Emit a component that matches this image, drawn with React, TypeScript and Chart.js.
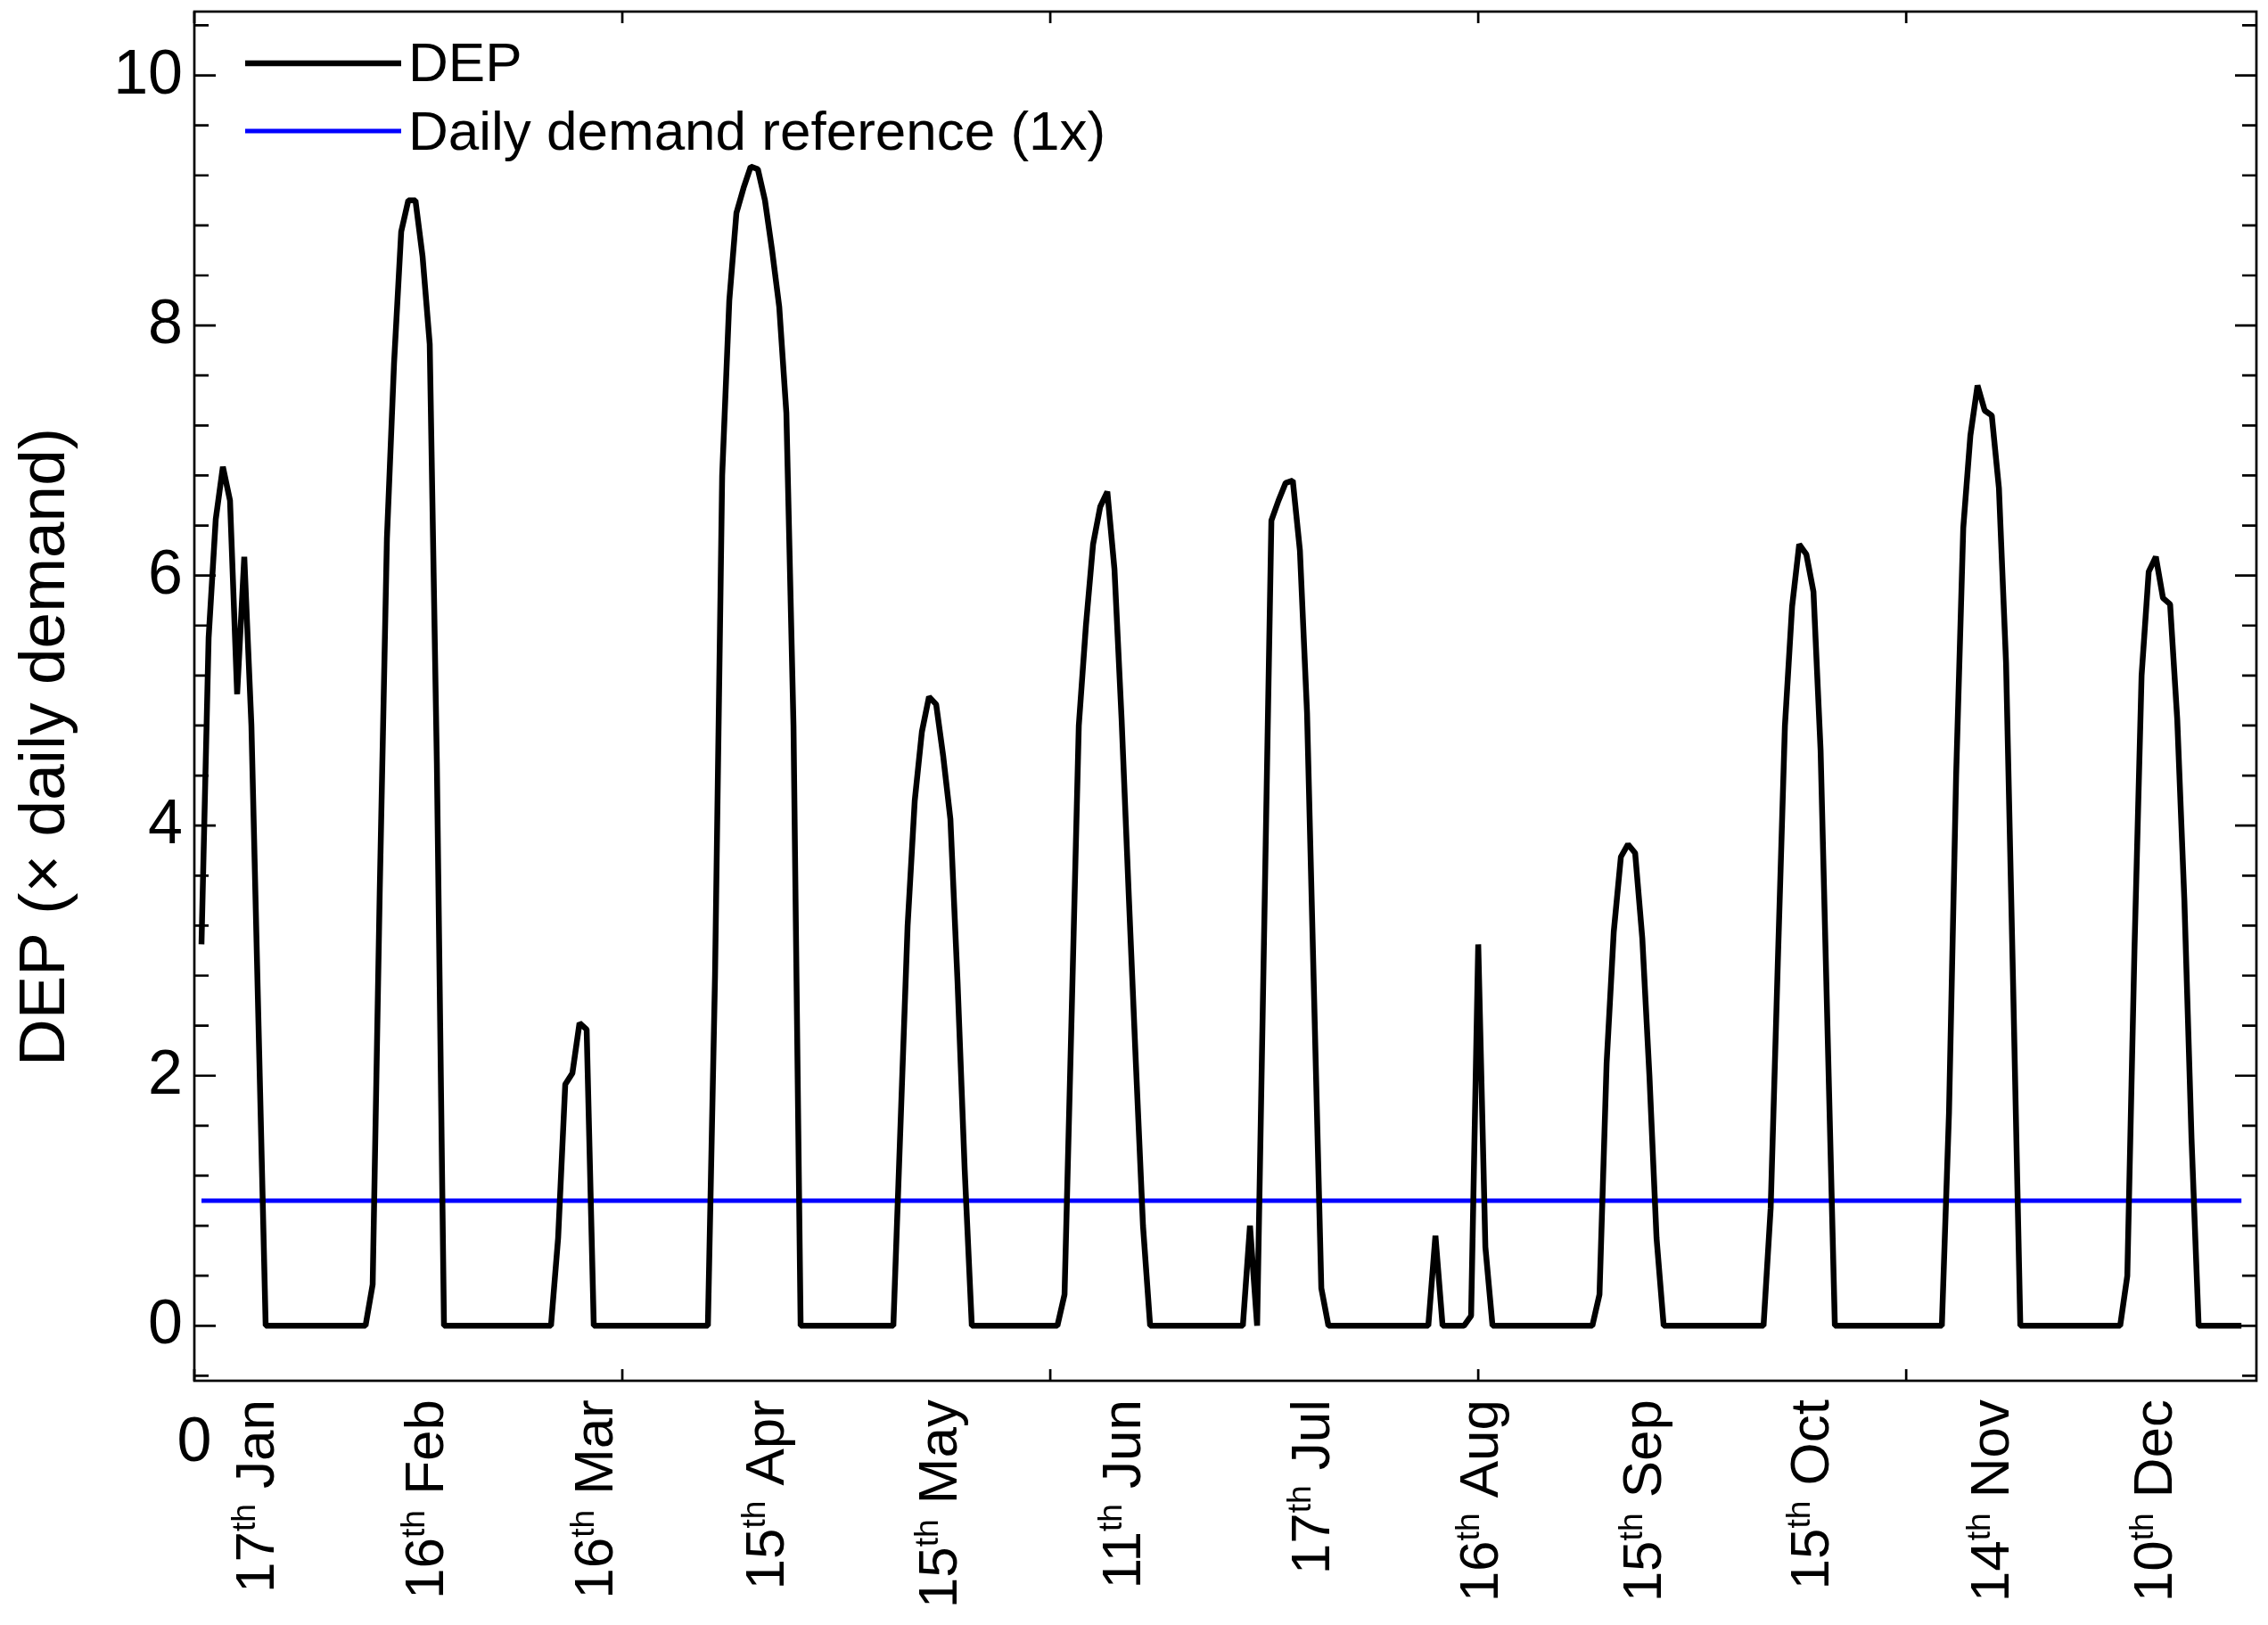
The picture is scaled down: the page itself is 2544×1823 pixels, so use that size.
import { useEffect, useRef } from "react";
import { Chart, registerables } from "chart.js";

Chart.register(...registerables);

// DEP in multiples of the daily demand, one value per hour (hour 1 .. 287),
// one row per representative day
const depValues: number[] = [
  3.05, 5.5, 6.45, 6.87, 6.6, 5.05, 6.15, 4.8, 2.4, 0, 0, 0, 0, 0, 0, 0, 0, 0, 0, 0, 0, 0, 0, 0,
  0.33, 3.5, 6.3, 7.7, 8.75, 9.0, 9.0, 8.55, 7.85, 4.5, 0, 0, 0, 0, 0, 0, 0, 0, 0, 0, 0, 0, 0, 0,
  0, 0, 0.7, 1.93, 2.02, 2.42, 2.37, 0, 0, 0, 0, 0, 0, 0, 0, 0, 0, 0, 0, 0, 0, 0, 0, 0,
  2.8, 6.8, 8.2, 8.9, 9.1, 9.27, 9.25, 9.0, 8.6, 8.15, 7.3, 4.8, 0, 0, 0, 0, 0, 0, 0, 0, 0, 0, 0, 0,
  0, 0, 1.6, 3.2, 4.2, 4.75, 5.03, 4.97, 4.55, 4.05, 2.75, 1.25, 0, 0, 0, 0, 0, 0, 0, 0, 0, 0, 0, 0,
  0, 0.25, 2.5, 4.8, 5.6, 6.25, 6.55, 6.67, 6.05, 4.85, 3.45, 2.1, 0.8, 0, 0, 0, 0, 0, 0, 0, 0, 0, 0, 0,
  0, 0, 0, 0.8, 0, 3.2, 6.44, 6.6, 6.74, 6.76, 6.2, 4.9, 2.6, 0.3, 0, 0, 0, 0, 0, 0, 0, 0, 0, 0,
  0, 0, 0, 0, 0, 0.72, 0, 0, 0, 0, 0.08, 3.05, 0.63, 0, 0, 0, 0, 0, 0, 0, 0, 0, 0, 0,
  0, 0, 0, 0, 0.25, 2.1, 3.15, 3.75, 3.85, 3.78, 3.1, 2.0, 0.7, 0, 0, 0, 0, 0, 0, 0, 0, 0, 0, 0,
  0, 0, 0, 0, 0.94, 2.9, 4.8, 5.75, 6.25, 6.17, 5.87, 4.6, 2.3, 0, 0, 0, 0, 0, 0, 0, 0, 0, 0, 0,
  0, 0, 0, 0, 0, 1.7, 4.4, 6.38, 7.12, 7.52, 7.32, 7.28, 6.7, 5.3, 2.7, 0, 0, 0, 0, 0, 0, 0, 0, 0,
  0, 0, 0, 0, 0, 0, 0.4, 3.0, 5.2, 6.03, 6.15, 5.82, 5.77, 4.85, 3.4, 1.5, 0, 0, 0, 0, 0, 0, 0,
];
const firstHour = 1;
const demandLevel = 1;

// axes
const xMax = 289.1;
const yMin = -0.44;
const yMax = 10.51;
const xTicks = [0, 60, 120, 180, 240];
const yTicks = [0, 2, 4, 6, 8, 10];
const yMinorStep = 0.4;

// date labels under the axis (x position = hour value)
const dayLabelPos = [8.4, 32.1, 55.9, 79.9, 104.1, 129.9, 156.3, 180.0, 202.9, 226.3, 251.6, 274.5];
const dayLabelNum = ["17", "16", "16", "15", "15", "11", "17", "16", "15", "15", "14", "10"];
const dayLabelMonth = ["Jan", "Feb", "Mar", "Apr", "May", "Jun", "Jul", "Aug", "Sep", "Oct", "Nov", "Dec"];
const daySuffix = "th";

const yTitle = "DEP (\u00d7 daily demand)";
const FONT = "'Liberation Sans', Arial, sans-serif";

const framePlugin = {
  id: "originFrame",
  afterDatasetsDraw(chart: any) {
    const { ctx, chartArea: a, scales } = chart;
    const x = scales.x;
    const y = scales.y;
    ctx.save();
    ctx.strokeStyle = "#000";
    ctx.lineWidth = 2.7;
    ctx.lineCap = "butt";
    ctx.beginPath();
    // y ticks on both sides, pointing in
    for (let i = Math.ceil(yMin / yMinorStep); i * yMinorStep <= yMax; i++) {
      const v = i * yMinorStep;
      const py = y.getPixelForValue(v);
      const major = yTicks.some((t) => Math.abs(t - v) < 1e-6);
      const len = major ? 24 : 16;
      ctx.moveTo(a.left, py);
      ctx.lineTo(a.left + len, py);
      ctx.moveTo(a.right, py);
      ctx.lineTo(a.right - len, py);
    }
    // x ticks top and bottom
    xTicks.forEach((t) => {
      const px = x.getPixelForValue(t);
      ctx.moveTo(px, a.bottom);
      ctx.lineTo(px, a.bottom - 13);
      ctx.moveTo(px, a.top);
      ctx.lineTo(px, a.top + 13);
    });
    ctx.stroke();
    ctx.strokeRect(a.left, a.top, a.right - a.left, a.bottom - a.top);
    ctx.restore();
  },
  afterDraw(chart: any) {
    const { ctx, chartArea: a, scales } = chart;
    const x = scales.x;
    const y = scales.y;
    ctx.save();
    ctx.fillStyle = "#000";

    // y tick labels
    ctx.font = `70px ${FONT}`;
    ctx.textAlign = "right";
    ctx.textBaseline = "alphabetic";
    yTicks.forEach((t) => {
      ctx.fillText(String(t), a.left - 13, y.getPixelForValue(t) + 20);
    });

    // the single numeric x label
    ctx.textAlign = "center";
    ctx.fillText("0", x.getPixelForValue(0), a.bottom + 90);

    // rotated date labels with superscript suffix
    const big = `62px ${FONT}`;
    const small = `37px ${FONT}`;
    dayLabelPos.forEach((pos, i) => {
      ctx.save();
      ctx.translate(x.getPixelForValue(pos) + 22, a.bottom + 21);
      ctx.rotate(-Math.PI / 2);
      ctx.textAlign = "left";
      ctx.font = big;
      const w1 = ctx.measureText(dayLabelNum[i]).width;
      const w3 = ctx.measureText(" " + dayLabelMonth[i]).width;
      ctx.font = small;
      const w2 = ctx.measureText(daySuffix).width;
      let cx = -(w1 + w2 + w3);
      ctx.font = big;
      ctx.fillText(dayLabelNum[i], cx, 0);
      cx += w1;
      ctx.font = small;
      ctx.fillText(daySuffix, cx, -21);
      cx += w2;
      ctx.font = big;
      ctx.fillText(" " + dayLabelMonth[i], cx, 0);
      ctx.restore();
    });

    // y axis title
    ctx.save();
    ctx.translate(72, (a.top + a.bottom) / 2 + 57);
    ctx.rotate(-Math.PI / 2);
    ctx.font = `73px ${FONT}`;
    ctx.textAlign = "center";
    ctx.fillText(yTitle, 0, 0);
    ctx.restore();

    // legend inside the plot, top left
    const ds = chart.data.datasets;
    const rows = [
      { y: a.top + 58, text: a.top + 78 },
      { y: a.top + 134, text: a.top + 155 },
    ];
    ctx.font = `62px ${FONT}`;
    ctx.textAlign = "left";
    ds.forEach((d: any, i: number) => {
      ctx.beginPath();
      ctx.strokeStyle = d.borderColor;
      ctx.lineWidth = d.borderWidth;
      ctx.moveTo(a.left + 57, rows[i].y);
      ctx.lineTo(a.left + 232, rows[i].y);
      ctx.stroke();
      ctx.fillText(d.label, a.left + 240, rows[i].text);
    });
    ctx.restore();
  },
};

const App = () => {
  const canvasRef = useRef<HTMLCanvasElement | null>(null);

  useEffect(() => {
    if (!canvasRef.current) return;
    const depPoints = depValues.map((v, i) => ({ x: firstHour + i, y: v }));
    const lastHour = firstHour + depValues.length - 1;
    const chart = new Chart(canvasRef.current, {
      type: "line",
      data: {
        datasets: [
          {
            label: "DEP",
            data: depPoints,
            borderColor: "#000000",
            borderWidth: 6.5,
            borderJoinStyle: "bevel",
            pointRadius: 0,
            tension: 0,
          },
          {
            label: "Daily demand reference (1x)",
            data: [
              { x: firstHour, y: demandLevel },
              { x: lastHour, y: demandLevel },
            ],
            borderColor: "#0000ff",
            borderWidth: 5,
            pointRadius: 0,
          },
        ],
      },
      options: {
        animation: false,
        responsive: true,
        maintainAspectRatio: false,
        layout: { padding: { left: 218, right: 13, top: 13, bottom: 274 } },
        plugins: {
          legend: { display: false },
          tooltip: { enabled: false },
        },
        scales: {
          x: { type: "linear", display: false, min: 0, max: xMax },
          y: { type: "linear", display: false, min: yMin, max: yMax },
        },
      },
      plugins: [framePlugin],
    });

    return () => {
      chart.destroy();
    };
  }, []);

  return (
    <div style={{ position: "absolute", left: 0, top: 0, width: 2544, height: 1823, background: "#fff" }}>
      <canvas ref={canvasRef} />
    </div>
  );
};

export default App;
